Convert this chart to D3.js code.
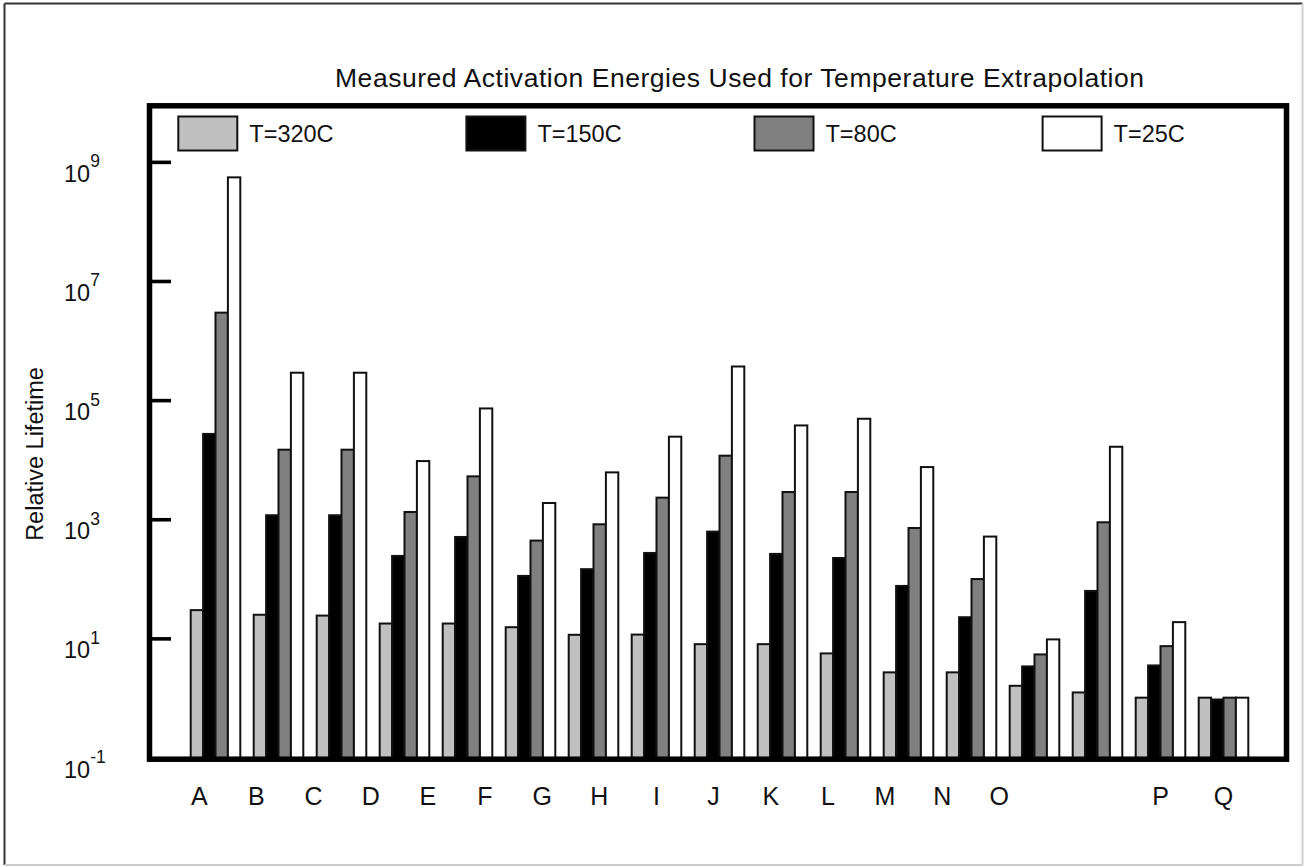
<!DOCTYPE html>
<html>
<head>
<meta charset="utf-8">
<script src="https://cdn.jsdelivr.net/npm/d3@7/dist/d3.min.js"></script>
<style>
  html, body { margin: 0; padding: 0; background: #fff; }
  svg { display: block; }
  text { font-family: "Liberation Sans", Arial, sans-serif; fill: #111; }
</style>
</head>
<body>
<svg id="chart" width="1312" height="867"></svg>
<script>
// ---- data ----
const categories = ["A","B","C","D","E","F","G","H","I","J","K","L","M","N","O","P","Q"];
const seriesNames = ["T=320C", "T=150C", "T=80C", "T=25C"];
const seriesColors = ["#c0c0c0", "#000000", "#808080", "#ffffff"];
const t320 = [30.4, 25.4, 24.6, 18.1, 18.1, 15.7, 11.7, 11.8, 8.15, 8.15, 5.7, 2.74, 2.74, 1.63, 1.26, 1.03, 1.03];
const t150 = [27600, 1190, 1190, 247, 514, 114, 148, 277, 632, 267, 228, 77.4, 23.1, 3.45, 63.8, 3.58, 0.96];
const t80  = [3.0e6, 15000, 15000, 1350, 5350, 447, 839, 2350, 11900, 2920, 2920, 727, 101, 5.48, 906, 7.55, 1.03];
const t25  = [5.6e8, 2.94e5, 2.94e5, 9660, 73900, 1910, 6240, 24800, 3.74e5, 38300, 49600, 7660, 522, 9.8, 16800, 19.1, 1.03];
const tickValues = [0.1, 10, 1e3, 1e5, 1e7, 1e9];
const tickExponents = ["-1", "1", "3", "5", "7", "9"];
const titleText = "Measured Activation Energies Used for Temperature Extrapolation";
const yTitle = "Relative Lifetime";

const seriesValues = [t320, t150, t80, t25];

// ---- layout ----
const svg = d3.select("#chart");
const W = 1312, H = 867;
const frame = { left: 149.5, right: 1286.5, top: 105.8, bottom: 759.2 };

svg.append("rect").attr("width", W).attr("height", H).attr("fill", "#fff");

// outer border
svg.append("line").attr("x1", 4.5).attr("y1", 3.5).attr("x2", 1302.5).attr("y2", 3.5).attr("stroke", "#333").attr("stroke-width", 2);
svg.append("line").attr("x1", 4.5).attr("y1", 3.5).attr("x2", 4.5).attr("y2", 865).attr("stroke", "#333").attr("stroke-width", 2);
svg.append("line").attr("x1", 1302.5).attr("y1", 3.5).attr("x2", 1302.5).attr("y2", 865).attr("stroke", "#cfcfcf").attr("stroke-width", 2);
svg.append("line").attr("x1", 4.5).attr("y1", 865).attr("x2", 1302.5).attr("y2", 865).attr("stroke", "#cfcfcf").attr("stroke-width", 2);

// scales
const y = d3.scaleLog().domain([0.1, 1e10]).range([758, 102.8]);
const x = d3.scaleBand().domain(categories).range([190.7, 1248.3]).paddingInner(0.2127).paddingOuter(0);
const xs = d3.scaleBand().domain(seriesNames).range([0, x.bandwidth()]).padding(0);

// bars
const rows = [];
categories.forEach((c, i) => {
  seriesNames.forEach((s, j) => rows.push({ cat: c, ser: s, j: j, v: seriesValues[j][i] }));
});
svg.append("g").selectAll("rect").data(rows).join("rect")
  .attr("x", d => x(d.cat) + xs(d.ser))
  .attr("y", d => y(d.v))
  .attr("width", xs.bandwidth())
  .attr("height", d => y(0.1) - y(d.v))
  .attr("fill", d => seriesColors[d.j])
  .attr("stroke", "#111")
  .attr("stroke-width", 2);

// frame
svg.append("rect")
  .attr("x", frame.left).attr("y", frame.top)
  .attr("width", frame.right - frame.left).attr("height", frame.bottom - frame.top)
  .attr("fill", "none").attr("stroke", "#000").attr("stroke-width", 5.5);

// y ticks (inward) and labels
const tickG = svg.append("g");
tickValues.forEach((v, i) => {
  const ty = y(v);
  if (v > 0.1) {
    tickG.append("line").attr("x1", frame.left).attr("x2", 171).attr("y1", ty).attr("y2", ty)
      .attr("stroke", "#000").attr("stroke-width", 3.6);
  }
  const t = tickG.append("text").attr("x", 64).attr("y", ty + 19.5).attr("font-size", 23.5).text("10");
  t.append("tspan").attr("dy", -14.5).attr("font-size", 17.5).text(tickExponents[i]);
});

// y title
svg.append("text")
  .attr("transform", "translate(43,454) rotate(-90)")
  .attr("text-anchor", "middle").attr("font-size", 23.5)
  .text(yTitle);

// title
svg.append("text").attr("x", 335).attr("y", 86.7).attr("font-size", 26.5)
  .attr("textLength", 809).attr("lengthAdjust", "spacing")
  .text(titleText);

// legend
const lx = d3.scalePoint().domain(seriesNames).range([178.3, 1042.6]);
const lg = svg.append("g");
seriesNames.forEach((s, j) => {
  lg.append("rect").attr("x", lx(s)).attr("y", 116.5).attr("width", 59).attr("height", 34)
    .attr("fill", seriesColors[j]).attr("stroke", "#111").attr("stroke-width", 2);
  lg.append("text").attr("x", lx(s) + 71).attr("y", 142.3)
    .attr("font-size", 23.5).text(s);
});

// x labels: A–O on a compact spacing, P and Q centred on their groups
const compact = categories.slice(0, 15);
const lblX = d3.scalePoint().domain(compact).range([199.3, 999.3]);
svg.append("g").selectAll("text").data(categories).join("text")
  .attr("x", c => compact.includes(c) ? lblX(c) : x(c) + x.bandwidth() / 2)
  .attr("y", 805)
  .attr("text-anchor", "middle")
  .attr("font-size", 25)
  .text(c => c);
</script>
</body>
</html>
